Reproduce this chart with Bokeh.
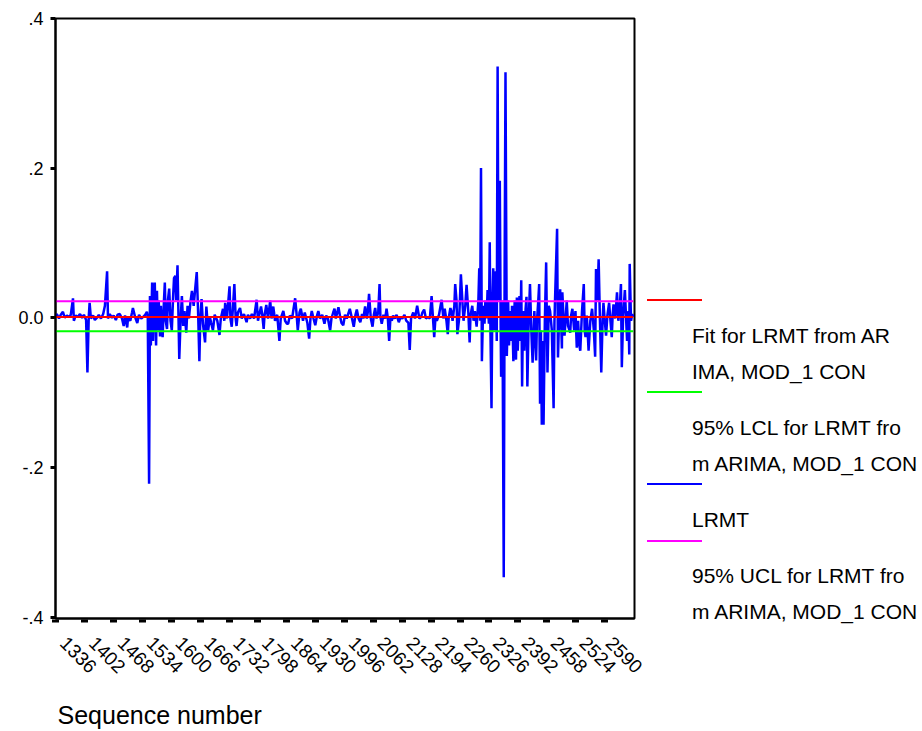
from bokeh.plotting import figure
from bokeh.models import Range1d, Title, Div
from bokeh.layouts import row
from bokeh.embed import file_html
from bokeh.resources import INLINE

# ---------------- data ----------------
seq = [1334, 1338, 1343, 1347, 1352, 1356, 1361, 1365, 1370, 1375, 1377, 1381, 1386, 1391, 1396, 1400,
       1405, 1408, 1411, 1413, 1416, 1421, 1425, 1430, 1434, 1439, 1444, 1448, 1453, 1455, 1459, 1464,
       1468, 1473, 1477, 1482, 1487, 1491, 1494, 1499, 1501, 1506, 1510, 1512, 1517, 1522, 1526, 1531,
       1535, 1540, 1544, 1546, 1549, 1551, 1553, 1556, 1558, 1560, 1562, 1565, 1567, 1569, 1571, 1574,
       1576, 1578, 1580, 1583, 1585, 1587, 1590, 1592, 1595, 1598, 1601, 1604, 1606, 1609, 1611, 1614,
       1616, 1618, 1621, 1624, 1627, 1630, 1634, 1637, 1640, 1644, 1647, 1651, 1654, 1658, 1661, 1664,
       1666, 1669, 1672, 1677, 1680, 1684, 1688, 1691, 1695, 1699, 1705, 1710, 1713, 1718, 1721, 1723,
       1727, 1733, 1735, 1738, 1741, 1744, 1747, 1749, 1752, 1757, 1761, 1766, 1772, 1775, 1780, 1784,
       1789, 1795, 1798, 1805, 1808, 1811, 1813, 1817, 1821, 1826, 1829, 1833, 1837, 1842, 1847, 1850,
       1856, 1860, 1864, 1867, 1871, 1876, 1883, 1886, 1889, 1893, 1896, 1901, 1905, 1911, 1915, 1918,
       1921, 1925, 1929, 1933, 1936, 1940, 1945, 1950, 1954, 1958, 1963, 1966, 1970, 1973, 1976, 1982,
       1986, 1989, 1993, 1997, 2001, 2008, 2013, 2017, 2021, 2024, 2028, 2032, 2036, 2039, 2043, 2047,
       2049, 2052, 2056, 2060, 2063, 2066, 2069, 2073, 2076, 2078, 2081, 2085, 2089, 2092, 2095, 2098,
       2101, 2104, 2107, 2111, 2115, 2120, 2124, 2128, 2133, 2137, 2142, 2145, 2148, 2153, 2157, 2162,
       2167, 2171, 2174, 2178, 2182, 2187, 2191, 2195, 2198, 2201, 2204, 2207, 2212, 2218, 2222, 2225,
       2229, 2232, 2234, 2238, 2240, 2243, 2247, 2249, 2252, 2254, 2258, 2260, 2262, 2266, 2268, 2272,
       2275, 2279, 2282, 2284, 2288, 2291, 2294, 2298, 2302, 2304, 2306, 2308, 2310, 2313, 2316, 2318,
       2321, 2323, 2326, 2328, 2329, 2332, 2334, 2336, 2339, 2342, 2344, 2346, 2348, 2351, 2353, 2354,
       2357, 2360, 2362, 2364, 2367, 2370, 2372, 2375, 2377, 2379, 2382, 2385, 2388, 2390, 2392, 2396,
       2398, 2400, 2402, 2404, 2407, 2410, 2412, 2414, 2417, 2420, 2423, 2426, 2430, 2434, 2436, 2439,
       2441, 2443, 2445, 2447, 2449, 2451, 2454, 2457, 2460, 2463, 2466, 2470, 2474, 2476, 2478, 2482,
       2484, 2487, 2489, 2493, 2494, 2497, 2499, 2502, 2504, 2507, 2512, 2514, 2517, 2521, 2524, 2527,
       2530, 2533, 2535, 2539, 2543, 2545, 2547, 2550, 2554, 2558, 2562, 2566, 2569, 2571, 2574, 2577,
       2580, 2583, 2586, 2588, 2591, 2594, 2597, 2601, 2604, 2607, 2609, 2611, 2615, 2619, 2622, 2625,
       2628, 2630, 2633, 2637, 2640, 2642, 2645, 2647, 2648, 2651, 2654, 2656]

lrmt = [0.001, 0.005, -0.001, 0.004, 0.008, 0.000, 0.003, 0.001, 0.004, 0.026, -0.004, 0.003, 0.001, 0.005, 0.000, 0.004,
        -0.003, -0.073, 0.001, 0.020, -0.001, 0.003, -0.003, 0.000, 0.004, -0.001, 0.005, 0.016, 0.062, -0.001, 0.005, 0.000,
        0.003, -0.003, 0.004, 0.005, -0.001, -0.011, 0.003, -0.013, 0.001, -0.004, 0.007, 0.013, 0.001, -0.007, 0.004, -0.001,
        0.001, 0.004, 0.008, 0.001, -0.222, 0.029, -0.037, 0.047, -0.031, 0.029, 0.047, -0.037, 0.036, -0.017, 0.023, -0.025,
        0.016, -0.011, -0.026, 0.023, 0.047, -0.004, -0.015, 0.023, 0.039, -0.004, -0.017, 0.029, 0.053, 0.056, 0.023, 0.070,
        0.009, -0.055, -0.004, 0.029, -0.011, 0.009, -0.020, 0.016, -0.001, 0.023, 0.036, 0.016, 0.036, 0.061, 0.009, -0.058,
        -0.004, 0.025, -0.007, -0.033, 0.015, -0.017, 0.001, -0.007, -0.017, 0.004, -0.004, -0.023, -0.001, 0.012, -0.004, 0.020,
        -0.001, 0.042, -0.001, -0.012, 0.016, 0.045, -0.001, -0.011, 0.007, 0.013, -0.001, 0.005, -0.006, 0.004, -0.001, 0.005,
        -0.001, 0.024, -0.004, 0.015, 0.003, -0.015, 0.003, 0.017, -0.001, 0.023, -0.001, 0.015, -0.004, 0.004, -0.031, -0.001,
        0.009, -0.004, -0.008, -0.008, 0.003, -0.001, 0.026, 0.007, -0.017, 0.007, 0.012, -0.004, 0.007, -0.007, -0.028, -0.001,
        0.009, -0.001, -0.010, 0.003, 0.009, -0.001, 0.004, -0.008, 0.003, -0.001, -0.017, -0.001, 0.007, 0.012, -0.001, 0.014,
        0.001, -0.007, -0.010, 0.004, -0.001, 0.012, -0.001, -0.012, 0.004, 0.011, -0.001, -0.006, 0.005, -0.001, 0.015, -0.001,
        0.007, 0.032, -0.001, -0.012, 0.004, 0.013, -0.001, 0.007, 0.045, 0.001, -0.008, 0.004, -0.001, 0.012, -0.001, -0.031,
        0.001, -0.004, 0.003, -0.001, 0.004, -0.006, 0.001, -0.001, 0.004, -0.004, -0.007, -0.043, -0.001, 0.007, -0.001, 0.016,
        -0.001, 0.001, 0.007, 0.011, -0.001, 0.001, -0.001, 0.029, 0.001, -0.026, 0.001, -0.004, 0.004, 0.024, -0.001, 0.012,
        -0.004, -0.022, -0.001, 0.013, 0.009, -0.004, 0.016, 0.045, 0.023, -0.022, -0.001, 0.027, 0.058, 0.016, -0.004, 0.016,
        0.044, 0.007, -0.033, 0.003, 0.016, -0.004, 0.009, -0.012, 0.023, 0.066, -0.004, 0.200, -0.058, 0.016, -0.008, 0.023,
        -0.001, 0.037, -0.008, 0.101, 0.009, -0.121, 0.023, 0.066, -0.017, 0.062, -0.031, 0.336, 0.023, 0.183, -0.017, -0.079,
        0.023, -0.347, 0.060, 0.328, -0.051, 0.023, -0.037, 0.009, -0.031, 0.016, -0.058, 0.023, -0.056, 0.027, -0.044, 0.029,
        -0.031, 0.050, -0.092, 0.009, -0.044, 0.012, 0.028, -0.092, -0.004, 0.045, -0.017, -0.060, 0.009, -0.057, -0.004, 0.023,
        0.045, -0.115, -0.017, -0.143, -0.031, -0.143, -0.004, 0.074, -0.073, 0.016, 0.009, -0.017, -0.121, -0.004, 0.039, 0.119,
        -0.053, 0.009, 0.038, -0.041, 0.034, -0.004, -0.024, 0.003, 0.023, -0.011, -0.020, 0.003, 0.012, -0.017, 0.009, -0.040,
        -0.004, -0.037, -0.044, 0.009, 0.045, -0.017, -0.026, 0.003, -0.044, -0.004, 0.012, -0.017, -0.052, 0.065, 0.023, 0.078,
        -0.004, -0.073, -0.004, 0.020, -0.004, -0.024, 0.003, 0.020, -0.004, -0.026, 0.003, 0.018, -0.001, 0.034, -0.004, 0.009,
        0.045, -0.066, 0.003, 0.037, -0.004, -0.031, 0.009, -0.049, 0.072, -0.004, 0.005, 0.001]

fit_value = 0.001      # Fit for LRMT from ARIMA, MOD_1 CON
lcl_value = -0.018     # 95% LCL
ucl_value = 0.022      # 95% UCL

x_ticks = list(range(1336, 2591, 66))
x_tick_labels = [str(t) for t in x_ticks]
y_ticks = [-0.4, -0.2, 0.0, 0.2, 0.4]
y_tick_labels = ["-.4", "-.2", "0.0", ".2", ".4"]

legend_colors = ["#FF0000", "#00FF00", "#0000FF", "#FF00FF"]
legend_texts = [["Fit for LRMT from AR", "IMA, MOD_1 CON"],
                ["95% LCL for LRMT fro", "m ARIMA, MOD_1 CON"],
                ["LRMT"],
                ["95% UCL for LRMT fro", "m ARIMA, MOD_1 CON"]]

FONT = "Liberation Sans"
TOP, FRAME_H, TOTAL_H = 18, 600, 730
MAIN_W = 646

# ---------------- main plot ----------------
p = figure(width=MAIN_W, height=TOTAL_H, frame_width=579, frame_height=FRAME_H,
           output_backend="svg", toolbar_location=None,
           x_range=Range1d(1335, 2659), y_range=Range1d(-0.402, 0.4),
           min_border_left=55, min_border_right=MAIN_W - 55 - 579, min_border_top=TOP,
           min_border_bottom=TOTAL_H - TOP - FRAME_H)
p.xgrid.visible = False
p.ygrid.visible = False
p.outline_line_color = "black"
p.outline_line_width = 2
p.background_fill_color = "white"
p.border_fill_color = "white"

n = len(seq)
p.line(seq, lrmt, line_color="#0000FF", line_width=2.5)
p.line(seq, [ucl_value] * n, line_color="#FF00FF", line_width=2)
p.line(seq, [lcl_value] * n, line_color="#00FF00", line_width=2)
p.line(seq, [fit_value] * n, line_color="#FF0000", line_width=2)

p.yaxis.ticker = y_ticks
p.yaxis.major_label_overrides = {t: l for t, l in zip(y_ticks, y_tick_labels)}
p.yaxis.major_tick_in = 0
p.yaxis.major_tick_out = 5
p.yaxis.major_tick_line_width = 3
p.yaxis.minor_tick_line_color = None
p.yaxis.axis_line_width = 2
p.yaxis.major_label_standoff = 7
p.yaxis.major_label_text_font = FONT
p.yaxis.major_label_text_font_size = "18px"
p.yaxis.major_label_text_color = "black"

p.xaxis.ticker = x_ticks
# a small non-breaking lead so the slanted label starts just right of its tick, as in the original
p.xaxis.major_label_overrides = {t: "\u00a0\u00a0" + l for t, l in zip(x_ticks, x_tick_labels)}
p.xaxis.major_tick_in = -1
p.xaxis.major_tick_out = 4
p.xaxis.major_tick_line_width = 7
p.xaxis.minor_tick_line_color = None
p.xaxis.axis_line_width = 2
p.xaxis.major_label_orientation = -0.785
p.xaxis.major_label_standoff = 10
p.xaxis.major_label_text_font = FONT
p.xaxis.major_label_text_font_size = "19px"
p.xaxis.major_label_text_color = "black"

xlabel = Title(text="Sequence number", align="left", offset=2, standoff=22,
               text_font=FONT, text_font_size="25px", text_font_style="normal",
               text_color="black")
p.add_layout(xlabel, "below")

# ---------------- legend panel (line sample above its wrapped label) ----------------
LEG_W = 922 - MAIN_W
parts = ['<div style="position:relative;width:%dpx;height:%dpx;font-family:\'Liberation Sans\',Arial,sans-serif;color:#000;">'
         % (LEG_W, TOTAL_H)]
y = 300.0
for color, lines in zip(legend_colors, legend_texts):
    parts.append('<div style="position:absolute;left:%dpx;top:%.1fpx;width:55px;height:2px;background:%s;"></div>'
                 % (647 - MAIN_W, y - 1, color))
    y += 35.5
    for i, t in enumerate(lines):
        parts.append('<div style="position:absolute;left:%dpx;top:%.1fpx;font-size:21px;line-height:24px;'
                     'white-space:nowrap;">%s</div>' % (692 - MAIN_W, y - 12, t))
        y += 36 if i < len(lines) - 1 else 20.7
parts.append('</div>')
legend_div = Div(text="".join(parts), width=LEG_W, height=TOTAL_H, margin=0)

layout = row(p, legend_div)
open("out.html", "w").write(file_html(layout, INLINE))
